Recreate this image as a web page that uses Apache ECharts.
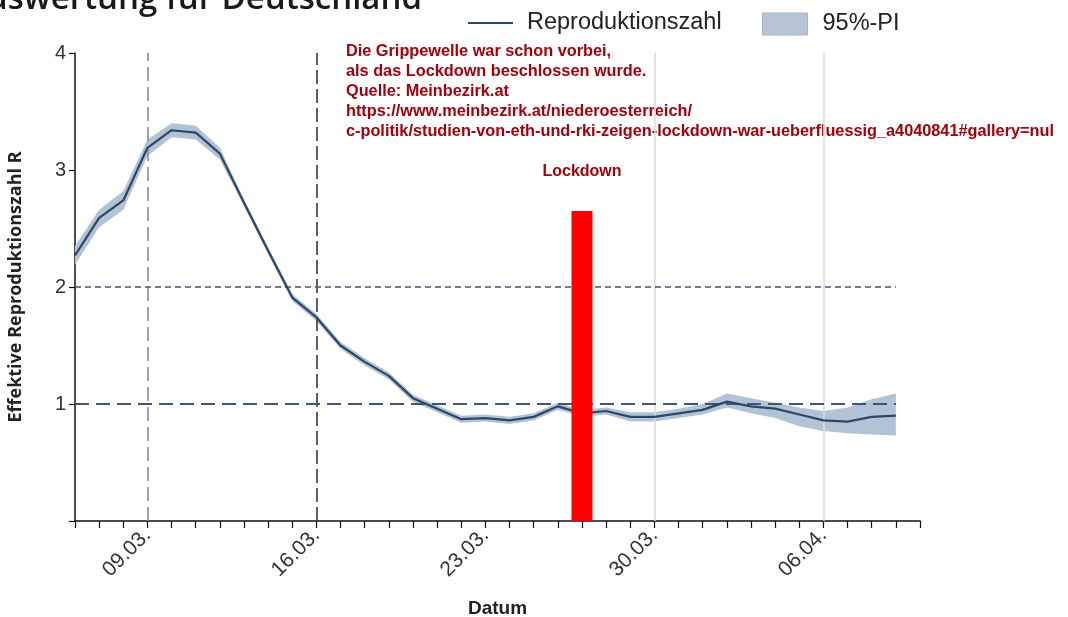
<!DOCTYPE html>
<html>
<head>
<meta charset="utf-8">
<script src="https://cdn.jsdelivr.net/npm/echarts@6/dist/echarts.min.js"></script>
<style>
  html, body { margin: 0; padding: 0; background: #fff; overflow: hidden; }
  #chart { width: 1068px; height: 617px; }
</style>
</head>
<body>
<div id="chart"></div>
<script>
// Tagesdaten 06.03. - 10.04.
const dates = [
  '06.03.', '07.03.', '08.03.', '09.03.', '10.03.', '11.03.', '12.03.', '13.03.', '14.03.', '15.03.',
  '16.03.', '17.03.', '18.03.', '19.03.', '20.03.', '21.03.', '22.03.', '23.03.', '24.03.', '25.03.',
  '26.03.', '27.03.', '28.03.', '29.03.', '30.03.', '31.03.', '01.04.', '02.04.', '03.04.', '04.04.',
  '05.04.', '06.04.', '07.04.', '08.04.', '09.04.', '10.04.'
];

// Effektive Reproduktionszahl R (Punktschätzer)
const rValues = [
  2.27, 2.59, 2.74, 3.19, 3.34, 3.32, 3.14, 2.72, 2.31, 1.91,
  1.74, 1.50, 1.36, 1.24, 1.05, 0.96, 0.87, 0.88, 0.86, 0.89,
  0.98, 0.92, 0.94, 0.89, 0.89, 0.92, 0.95, 1.02, 0.98, 0.96,
  0.91, 0.86, 0.85, 0.89, 0.90, null
];

// 95%-Prädiktionsintervall
const piLower = [
  2.19, 2.51, 2.66, 3.12, 3.28, 3.26, 3.09, 2.69, 2.28, 1.88,
  1.71, 1.47, 1.33, 1.21, 1.02, 0.93, 0.84, 0.85, 0.83, 0.86,
  0.95, 0.89, 0.91, 0.85, 0.85, 0.88, 0.91, 0.97, 0.92, 0.88,
  0.81, 0.77, 0.75, 0.74, 0.73, null
];
const piUpper = [
  2.35, 2.66, 2.82, 3.26, 3.40, 3.38, 3.19, 2.75, 2.34, 1.94,
  1.77, 1.53, 1.39, 1.27, 1.08, 0.99, 0.90, 0.91, 0.89, 0.92,
  1.01, 0.95, 0.97, 0.93, 0.93, 0.96, 1.00, 1.09, 1.05, 1.01,
  0.97, 0.94, 0.97, 1.04, 1.09, null
];

// Beginn des Lockdowns und Höhe der Markierung
const lockdownDate = '27.03.';
const lockdownHeight = 2.65;

const yTicks = [0, 1, 2, 3, 4];

const annotation = [
  'Die Grippewelle war schon vorbei,',
  'als das Lockdown beschlossen wurde.',
  'Quelle: Meinbezirk.at',
  'https://www.meinbezirk.at/niederoesterreich/',
  'c-politik/studien-von-eth-und-rki-zeigen-lockdown-war-ueberfluessig_a4040841#gallery=nul'
];

const piSpan = piUpper.map((u, i) => (u == null || piLower[i] == null) ? null : +(u - piLower[i]).toFixed(3));
const lockdownBar = dates.map(d => d === lockdownDate ? lockdownHeight : null);

const chart = echarts.init(document.getElementById('chart'), null, { renderer: 'canvas', width: 1068, height: 617 });

const vLine = (date, top, style) => [
  { coord: [date, 0], lineStyle: style, symbol: 'none' },
  { coord: [date, top], symbol: 'none' }
];
const hLine = (val, style) => [
  { coord: [dates[0], val], lineStyle: style, symbol: 'none' },
  { coord: [dates[34], val], symbol: 'none' }
];

const option = {
  animation: false,
  backgroundColor: '#ffffff',
  textStyle: { fontFamily: 'Liberation Sans, Arial, sans-serif' },
  graphic: [
    {
      type: 'text', right: 1068 - 422, top: -17,
      style: {
        text: 'Auswertung für Deutschland',
        font: '600 33px "Open Sans", sans-serif',
        fill: '#1a1a1a', textAlign: 'right'
      }
    },
    {
      type: 'text', left: 346, top: 42,
      style: {
        text: annotation.join('\n'),
        font: 'bold 16.3px "Liberation Sans", Arial, sans-serif',
        lineHeight: 20,
        fill: '#a3000b'
      }
    }
  ],
  legend: [
    {
      left: 468, top: 11, padding: 0,
      itemWidth: 45, itemHeight: 22,
      data: [{ name: 'Reproduktionszahl', icon: 'path://M0,0H45V2.2H0Z', itemStyle: { color: '#2e4766' } }],
      textStyle: { fontSize: 23.5, color: '#222', padding: [0, 0, 0, 9] }
    },
    {
      left: 762, top: 12, padding: 0,
      itemWidth: 45, itemHeight: 22,
      data: [{ name: '95%-PI', icon: 'rect', itemStyle: { color: '#b6c5d6', borderColor: '#a3b3c6', borderWidth: 1 } }],
      textStyle: { fontSize: 23.5, color: '#222', padding: [0, 0, 0, 10] }
    }
  ],
  grid: { left: 75, top: 53, width: 845, height: 468, containLabel: false, outerBoundsMode: 'none' },
  xAxis: {
    type: 'category',
    data: dates,
    boundaryGap: false,
    name: 'Datum',
    nameLocation: 'middle',
    nameGap: 78,
    nameTextStyle: { fontSize: 19, fontWeight: 'bold', color: '#222' },
    axisLine: { lineStyle: { color: '#111', width: 1.5 } },
    axisTick: { show: true, interval: 0, length: 7, lineStyle: { color: '#111', width: 1.2 } },
    axisLabel: {
      interval: (i) => i % 7 === 3,
      rotate: 45, fontSize: 21, color: '#333', margin: 11
    },
    splitLine: { show: false }
  },
  yAxis: {
    type: 'value',
    min: yTicks[0], max: yTicks[yTicks.length - 1], interval: 1,
    name: 'Effektive Reproduktionszahl R',
    nameLocation: 'middle',
    nameGap: 50,
    nameTextStyle: { fontSize: 18, fontWeight: 'bold', color: '#222', fontFamily: 'Open Sans' },
    axisLine: { show: true, lineStyle: { color: '#111', width: 1.5 } },
    axisTick: { show: true, length: 6, lineStyle: { color: '#111', width: 1.2 } },
    axisLabel: {
      fontSize: 20, color: '#333', margin: 9,
      formatter: (v) => v === 0 ? '' : String(v)
    },
    splitLine: { show: false }
  },
  series: [
    {
      name: 'piLower', type: 'line', data: piLower, stack: 'pi',
      symbol: 'none', silent: true, lineStyle: { opacity: 0 }, z: 2
    },
    {
      name: '95%-PI', type: 'line', data: piSpan, stack: 'pi',
      symbol: 'none', silent: true, lineStyle: { opacity: 0 },
      itemStyle: { color: '#b6c5d6' },
      areaStyle: { color: '#b3c3d6', opacity: 1 }, z: 2
    },
    {
      name: 'Reproduktionszahl', type: 'line', data: rValues,
      symbol: 'none', z: 4,
      lineStyle: { color: '#2e4766', width: 2.2 },
      itemStyle: { color: '#2e4766' },
      markLine: {
        silent: true, symbol: 'none', label: { show: false }, z: 3,
        data: [
          vLine('09.03.', 4, { color: '#8a8a8a', width: 1.6, type: [14, 6] }),
          vLine('16.03.', 4, { color: '#3a3a3a', width: 1.6, type: [14, 5] }),
          vLine('23.03.', 4.07, { color: '#000', width: 2.4, type: [24, 4] }),
          vLine('30.03.', 4, { color: '#dcdcdc', width: 1.6, type: 'solid' }),
          vLine('06.04.', 4, { color: '#dcdcdc', width: 1.6, type: 'solid' }),
          hLine(2, { color: '#3d5675', width: 1.6, type: [6, 4] }),
          hLine(1, { color: '#3d5675', width: 2, type: [14, 7] })
        ]
      }
    },
    {
      name: 'Lockdown', type: 'bar', data: lockdownBar,
      barWidth: 21, silent: true, z: 5,
      itemStyle: { color: '#ff0000' },
      label: {
        show: true, position: 'top', distance: 31,
        formatter: 'Lockdown',
        fontSize: 16, fontWeight: 'bold', color: '#a3000b'
      }
    }
  ]
};

chart.setOption(option);
</script>
</body>
</html>
